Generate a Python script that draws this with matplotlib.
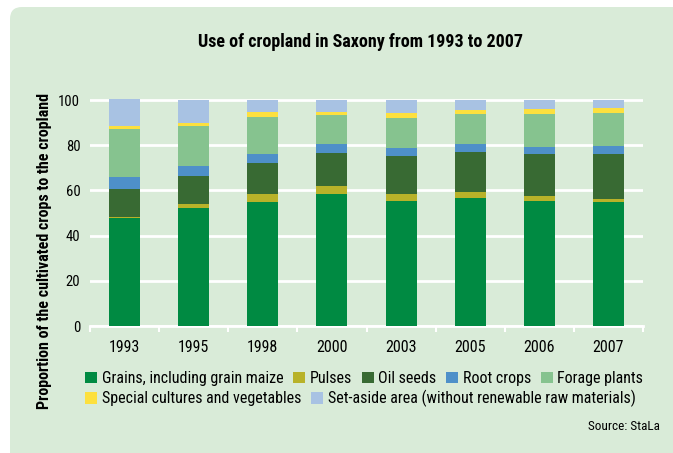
import numpy as np
import matplotlib.pyplot as plt
from matplotlib.patches import FancyBboxPatch, Patch

years = ["1993", "1995", "1998", "2000", "2003", "2005", "2006", "2007"]
grains = [47.7, 52.1, 54.8, 58.3, 55.2, 56.6, 55.2, 54.8]
pulses = [0.6, 1.8, 3.5, 3.6, 3.1, 2.6, 2.3, 1.3]
oil_seeds = [12.4, 12.4, 13.8, 14.6, 16.9, 17.8, 18.6, 20.0]
root_crops = [5.3, 4.5, 4.0, 4.0, 3.5, 3.5, 3.1, 3.5]
forage = [21.3, 17.7, 16.4, 12.9, 13.3, 13.3, 14.6, 14.6]
special = [1.3, 1.3, 2.2, 1.3, 2.3, 1.8, 2.2, 2.3]
set_aside = [12.0, 10.2, 5.3, 5.3, 5.8, 4.4, 4.0, 3.5]

labels = ["Grains, including grain maize", "Pulses", "Oil seeds", "Root crops",
          "Forage plants", "Special cultures and vegetables",
          "Set-aside area (without renewable raw materials)"]
colors = ["#008a42", "#b8b229", "#386a33", "#4e90c9", "#86c38f", "#fde03e", "#a8c2e3"]
series = [grains, pulses, oil_seeds, root_crops, forage, special, set_aside]

plt.rcParams['font.family'] = ['Roboto Condensed', 'Liberation Sans Narrow', 'Liberation Sans', 'DejaVu Sans']
bg = "#d9ebd8"

fig = plt.figure(figsize=(6.73, 4.53), dpi=100)
fig.patch.set_facecolor("white")

# background panel with rounded corners (pixel coords)
bax = fig.add_axes([0, 0, 1, 1], zorder=-1)
bax.set_xlim(0, 673)
bax.set_ylim(453, 0)
bax.axis("off")
bax.add_patch(FancyBboxPatch((10, 7), 700, 500, boxstyle="round,pad=0,rounding_size=12",
                             facecolor=bg, edgecolor="none"))

ax = fig.add_axes([90/673, 127/453, 553/673, 227/453])
ax.patch.set_alpha(0)

x = np.arange(len(years))
bottom = np.zeros(len(years))
for vals, c, lab in zip(series, colors, labels):
    ax.bar(x, vals, width=0.45, bottom=bottom, color=c, label=lab, zorder=3)
    bottom += np.array(vals)

ax.set_xlim(-0.5, len(years) - 0.5)
ax.set_ylim(0, 100.5)
ax.set_yticks([0, 20, 40, 60, 80, 100])
ax.grid(axis="y", color="white", linewidth=2, zorder=1)
ax.set_xticks(x)
ax.set_xticklabels(years, fontsize=11.5)
ax.set_xticks(np.arange(-0.5, len(years)), minor=True)
ax.tick_params(axis="x", which="major", length=0, pad=10)
ax.tick_params(axis="x", which="minor", length=4, width=1.5, color="white")
ax.tick_params(axis="y", length=0, pad=7, labelsize=10.5)
for s in ["top", "right", "left"]:
    ax.spines[s].set_visible(False)
ax.spines["bottom"].set_color("white")
ax.spines["bottom"].set_linewidth(2)

fig.text(45/673, 1 - 251/453, "Proportion of the cultivated crops to the cropland", rotation=90,
         ha="center", va="center", fontsize=11.5, fontweight="bold")
fig.text(360/673, 1 - 42/453, "Use of cropland in Saxony from 1993 to 2007", ha="center", va="center",
         fontsize=13, fontweight="bold")

handles = [Patch(facecolor=c, label=l) for c, l in zip(colors, labels)]
leg1 = fig.legend(handles=handles[:5], loc="upper left", bbox_to_anchor=(85/673, 1 - 371/453),
                  ncol=5, frameon=False, fontsize=11.5, handlelength=0.75, handleheight=0.75,
                  handletextpad=0.3, columnspacing=0.6, borderaxespad=0, borderpad=0)
leg2 = fig.legend(handles=handles[5:], loc="upper left", bbox_to_anchor=(85/673, 1 - 390/453),
                  ncol=2, frameon=False, fontsize=11.5, handlelength=0.75, handleheight=0.75,
                  handletextpad=0.3, columnspacing=0.6, borderaxespad=0, borderpad=0)

fig.text(660/673, 1 - 427/453, "Source: StaLa", ha="right", va="center", fontsize=9.5)

fig.savefig("out.png", dpi=100)
